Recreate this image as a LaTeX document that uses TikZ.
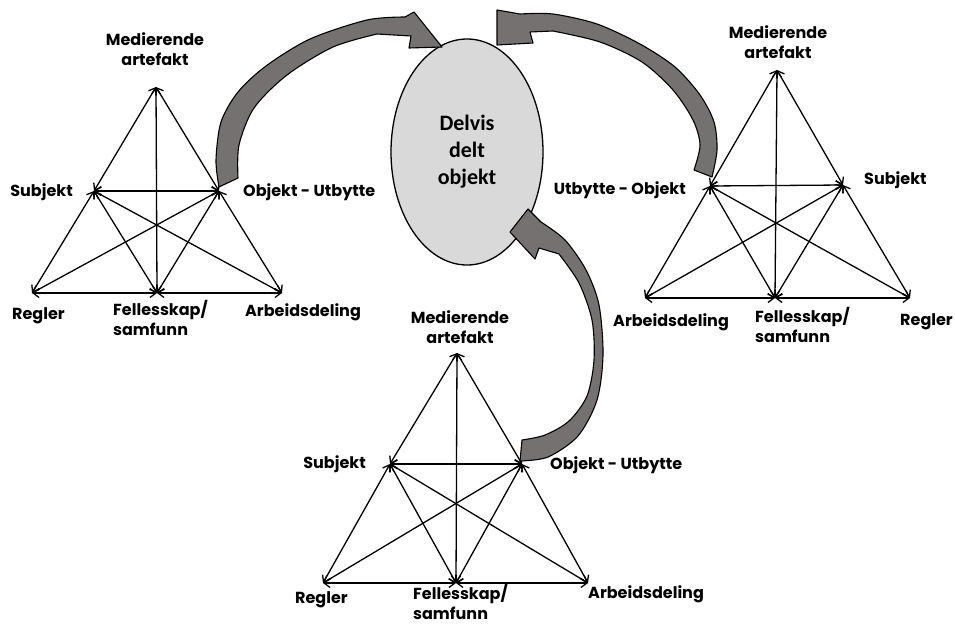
\documentclass[tikz,border=0pt]{standalone}
\usepackage{fontspec}
\setmainfont{Poppins}
\newfontfamily\calib{Carlito}
\usetikzlibrary{arrows.meta,shapes.geometric}
\definecolor{arrowgray}{RGB}{118,113,113}
\definecolor{ellgray}{RGB}{217,217,217}
\begin{document}
\begin{tikzpicture}[x=1pt,y=-1pt,
  rel/.style={draw=black, line width=1.3pt,
    {Straight Barb[length=6pt,width=9pt]}-{Straight Barb[length=6pt,width=9pt]}},
  lbl/.style={font=\fontsize{16}{20}\selectfont\bfseries, inner sep=0pt, align=left},
  lblc/.style={lbl, align=center},
  bigarrow/.style={fill=arrowgray, draw=black, line width=1.1pt, line join=round},
  ell/.style={ellipse, draw=black, line width=1.3pt, fill=ellgray,
    minimum width=152pt, minimum height=226pt, inner sep=0pt,
    font=\calib\bfseries\fontsize{22}{27}\selectfont, align=center}
]
\useasboundingbox (0,0) rectangle (955,624);

% ---- left triangle
\coordinate (LA) at (156,87);
\coordinate (LS) at (94,191);
\coordinate (LO) at (219,191);
\coordinate (LR) at (32,293);
\coordinate (LF) at (157,293);
\coordinate (LW) at (282,293);
% ---- right triangle
\coordinate (RA) at (777,70);
\coordinate (RO) at (710,186);
\coordinate (RS) at (843,185);
\coordinate (RW) at (645,298);
\coordinate (RF) at (775,298);
\coordinate (RR) at (910,298);
% ---- bottom triangle
\coordinate (BA) at (457,353);
\coordinate (BS) at (390,464);
\coordinate (BO) at (522,464);
\coordinate (BR) at (323,583);
\coordinate (BF) at (456,583);
\coordinate (BW) at (588,583);

\foreach \p in {L,R,B} {
  \foreach \a/\b in {A/S, A/O, A/F, S/O, S/R, S/F, S/W, O/R, O/F, O/W, R/F, F/W}
    \draw[rel] (\p\a) -- (\p\b);
}

% ---- labels left
\node[lblc] (lmed) at (155,49) {Medierende\\artefakt};
\node[lbl, anchor=east] (lsub) at (73,192) {Subjekt};
\node[lbl, anchor=west] (lobj) at (243,192) {Objekt - Utbytte};
\node[lbl, anchor=west] (lreg) at (12,316) {Regler};
\node[lbl, anchor=north west] (lfel) at (113,300) {Fellesskap/\\samfunn};
\node[lbl, anchor=west] (larb) at (245,312) {Arbeidsdeling};
% ---- labels right
\node[lblc] (rmed) at (778,42) {Medierende\\artefakt};
\node[lbl, anchor=east] (robj) at (686,190) {Utbytte - Objekt};
\node[lbl, anchor=west] (rsub) at (864,180) {Subjekt};
\node[lbl, anchor=west] (rarb) at (613,322) {Arbeidsdeling};
\node[lbl, anchor=north west] (rfel) at (755,307) {Fellesskap/\\samfunn};
\node[lbl, anchor=west] (rreg) at (900,322) {Regler};
% ---- labels bottom
\node[lblc] (bmed) at (460,327) {Medierende\\artefakt};
\node[lbl, anchor=east] (bsub) at (366,464) {Subjekt};
\node[lbl, anchor=west] (bobj) at (550,465) {Objekt - Utbytte};
\node[lbl, anchor=west] (breg) at (295,600) {Regler};
\node[lbl, anchor=north west] (bfel) at (413,584) {Fellesskap/\\samfunn};
\node[lbl, anchor=west] (barb) at (588,594) {Arbeidsdeling};

% ---- centre ellipse
\node[ell] (obj) at (467,152) {Delvis\\delt\\objekt};

% ---- curved block arrows
\filldraw[bigarrow] plot[smooth] coordinates {(219,187) (216,160) (221,122) (238,92) (266,66) (310,39) (367,20) (405,17)}
  -- (414,12) -- (442,47) -- (409,48) -- (411,36)
  -- plot[smooth] coordinates {(377,34) (333,47) (287,75) (254,108) (239,145) (238,178)} -- cycle;

\filldraw[bigarrow] plot[smooth] coordinates {(712,177) (717,150) (714,122) (700,95) (675,67) (640,44) (597,24) (553,14) (520,14)}
  -- (497,10) -- (497,45) -- (533,43) -- (530,32)
  -- plot[smooth] coordinates {(553,31) (600,42) (642,62) (673,90) (693,120) (700,145) (694,170)} -- cycle;

\filldraw[bigarrow] plot[smooth] coordinates {(520,461) (548,457) (578,436) (597,400) (603,355) (599,305) (586,270) (565,240) (541,222)}
  -- (528,209) -- (510,232) -- (535,259) -- (539,248)
  -- plot[smooth] coordinates {(559,254) (579,283) (592,320) (594,360) (587,396) (569,421) (545,435) (522,440)} -- cycle;
\end{tikzpicture}
\end{document}
